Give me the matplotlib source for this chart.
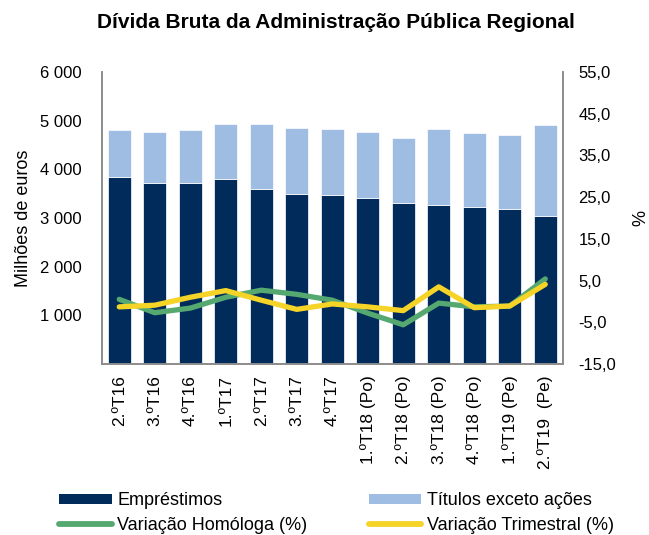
import matplotlib
matplotlib.use('Agg')
from matplotlib import pyplot as plt
from matplotlib.lines import Line2D
from matplotlib.patches import Patch
import matplotlib.ticker as mticker

quarters = ['2.ºT16', '3.ºT16', '4.ºT16', '1.ºT17', '2.ºT17', '3.ºT17', '4.ºT17',
            '1.ºT18 (Po)', '2.ºT18 (Po)', '3.ºT18 (Po)', '4.ºT18 (Po)', '1.ºT19 (Pe)', '2.ºT19  (Pe)']

# millions of euros
emprestimos = [3840, 3723, 3710, 3799, 3587, 3497, 3470, 3415, 3313, 3265, 3230, 3183, 3045]
total = [4805, 4770, 4805, 4922, 4942, 4853, 4819, 4770, 4654, 4825, 4757, 4709, 4901]
titulos = [t - e for t, e in zip(total, emprestimos)]

# %
var_homologa = [0.5, -2.7, -1.6, 1.0, 2.7, 1.7, 0.3, -2.8, -5.6, -0.4, -1.3, -1.1, 5.4]
var_trimestral = [-1.3, -0.9, 1.0, 2.6, 0.3, -1.9, -0.6, -1.3, -2.2, 3.5, -1.5, -1.1, 4.1]

colors = {
    'navy': '#002B5A',
    'light': '#9FBDE3',
    'green': '#55A86F',
    'yellow': '#F5D327',
    'axis': '#8C8C8C',
}

plt.rcParams['font.family'] = ['Liberation Sans', 'DejaVu Sans']

fig = plt.figure(figsize=(6.49, 5.35), dpi=100)
ax = fig.add_axes([0.1564, 0.3196, 0.7111, 0.5458])
ax2 = ax.twinx()

x = list(range(len(quarters)))
ax.bar(x, emprestimos, width=0.66, color=colors['navy'], edgecolor='white', linewidth=0.5, zorder=2)
ax.bar(x, titulos, width=0.66, bottom=emprestimos, color=colors['light'], edgecolor='white', linewidth=0.5, zorder=2)

ax2.plot(x, var_homologa, color=colors['green'], linewidth=3.8, solid_capstyle='round', zorder=3)
ax2.plot(x, var_trimestral, color=colors['yellow'], linewidth=3.8, solid_capstyle='round', zorder=4)

ax.set_xlim(-0.5, len(quarters) - 0.5)
ax.set_ylim(0, 6000)
ax.set_yticks([1000, 2000, 3000, 4000, 5000, 6000])
ax.yaxis.set_major_formatter(mticker.FuncFormatter(lambda v, p: '{:,.0f}'.format(v).replace(',', ' ')))
ax2.set_ylim(-15, 55)
ax2.set_yticks([-15, -5, 5, 15, 25, 35, 45, 55])
ax2.yaxis.set_major_formatter(mticker.FuncFormatter(lambda v, p: '{:.1f}'.format(v).replace('.', ',')))

ax.set_xticks(x)
ax.set_xticklabels(quarters, rotation=90, fontsize=12.5)
ax.tick_params(axis='x', length=0, pad=8)
ax.tick_params(axis='y', length=0, labelsize=12, pad=14)
ax2.tick_params(axis='y', length=0, labelsize=12, pad=11)

for a in (ax, ax2):
    a.spines['top'].set_visible(False)
    for s in ('left', 'right', 'bottom'):
        a.spines[s].set_color(colors['axis'])
        a.spines[s].set_linewidth(1.2)

ax.set_ylabel('Milhões de euros', fontsize=13, labelpad=6)
ax2.set_ylabel('%', fontsize=13, rotation=90, labelpad=12)

fig.suptitle('Dívida Bruta da Administração Pública Regional', fontsize=15, fontweight='bold', x=0.517, y=0.975)

handles = [
    Patch(facecolor=colors['navy']),
    Line2D([], [], color=colors['green'], linewidth=4.2, solid_capstyle='round'),
    Patch(facecolor=colors['light']),
    Line2D([], [], color=colors['yellow'], linewidth=4.2, solid_capstyle='round'),
]
labels = ['Empréstimos', 'Variação Homóloga (%)', 'Títulos exceto ações', 'Variação Trimestral (%)']
fig.legend(handles, labels, ncol=2, loc='upper left', bbox_to_anchor=(0.066, 0.110),
           frameon=False, fontsize=13, handlelength=2.93, handleheight=0.55, handletextpad=0.28,
           columnspacing=3.4, labelspacing=0.4)

plt.savefig('out.png', dpi=100)
